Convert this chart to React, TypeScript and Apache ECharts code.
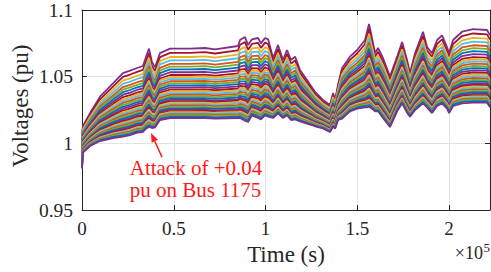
import React, { useEffect, useRef } from "react";
import * as echarts from "echarts";

// Time stamps (s) at which the voltage profiles were read
const TIME = [0, 500, 4400, 9800, 16900, 22300, 26200, 30000, 33200, 34900, 36500, 38100, 39800, 42500, 48000, 58900, 67000, 72500, 85000, 86100, 88800, 90500, 92600, 95900, 97500, 99700, 101400, 104100, 106800, 109500, 111700, 113900, 116100, 118800, 122600, 127000, 131300, 135100, 136800, 137900, 139500, 141700, 146000, 149900, 154200, 155300, 156400, 158000, 159700, 161300, 164000, 167800, 171700, 174400, 177100, 178700, 181500, 185800, 188000, 190700, 193500, 196200, 198900, 200000, 202200, 207100, 213100, 220700, 222300];

// Highest bus voltage profile (pu)
const UPPER = [1.006, 1.013, 1.0227, 1.035, 1.045, 1.0527, 1.0545, 1.0565, 1.058, 1.065, 1.071, 1.061, 1.057, 1.0677, 1.071, 1.071, 1.0715, 1.0705, 1.073, 1.0775, 1.0797, 1.0737, 1.078, 1.079, 1.075, 1.079, 1.078, 1.064, 1.0737, 1.0625, 1.07, 1.0625, 1.065, 1.055, 1.0475, 1.0385, 1.0325, 1.0287, 1.0377, 1.0325, 1.044, 1.0565, 1.065, 1.07, 1.0775, 1.0837, 1.0895, 1.079, 1.0677, 1.0715, 1.064, 1.05, 1.065, 1.076, 1.0625, 1.0527, 1.0677, 1.0837, 1.0722, 1.0677, 1.0775, 1.081, 1.072, 1.0677, 1.0775, 1.0837, 1.0857, 1.085, 1.081];

// Lowest bus voltage profile (pu)
const LOWER = [0.981, 0.993, 0.998, 1.0017, 1.004, 1.005, 1.0062, 1.008, 1.0085, 1.011, 1.0125, 1.0115, 1.012, 1.0175, 1.019, 1.019, 1.019, 1.0185, 1.019, 1.019, 1.017, 1.016, 1.021, 1.019, 1.018, 1.021, 1.02, 1.019, 1.0225, 1.019, 1.021, 1.0175, 1.018, 1.0165, 1.0148, 1.0128, 1.0112, 1.0085, 1.0125, 1.011, 1.0175, 1.0185, 1.024, 1.026, 1.027, 1.027, 1.0275, 1.026, 1.024, 1.024, 1.019, 1.0122, 1.024, 1.03, 1.023, 1.02, 1.025, 1.03, 1.027, 1.0227, 1.028, 1.03, 1.026, 1.0227, 1.028, 1.03, 1.0305, 1.0305, 1.027];

// Relative position of each bus inside the voltage band (1 = top, 0 = bottom)
const LEVELS = [1.0, 0.94, 0.88, 0.83, 0.78, 0.74, 0.7, 0.66, 0.62, 0.59, 0.56, 0.53, 0.5, 0.47, 0.44, 0.41, 0.385, 0.36, 0.335, 0.31, 0.285, 0.26, 0.24, 0.22, 0.2, 0.18, 0.16, 0.14, 0.12, 0.1, 0.085, 0.07, 0.055, 0.04, 0.02, 0.0];

const X_TICKS = [0, 50000, 100000, 150000, 200000];
const Y_TICKS = [0.95, 1, 1.05, 1.1];

const COLORS = ["#0072BD", "#D95319", "#EDB120", "#7E2F8E", "#77AC30", "#4DBEEE", "#A2142F"];

const ANNOT_LINES = ["Attack of +0.04", "pu on Bus 1175"];
const ARROW_TIP = [37600, 1.0077];
const ARROW_TAIL = [43600, 0.9897];
const ANNOT_ANCHOR = [26000, 0.9812];

const FONT = "'Liberation Serif', 'Times New Roman', serif";
const INK = "#262626";

export default function App() {
  const ref = useRef<HTMLDivElement>(null);
  useEffect(() => {
    document.body.style.margin = "0";
    if (!ref.current) return;
    const chart = echarts.init(ref.current, undefined, { renderer: "svg" });

    const series = LEVELS.map((lv, i) => {
      const color = COLORS[(3 + 3 * i) % COLORS.length];
      return {
        type: "line",
        name: "Bus " + (i + 1),
        data: TIME.map((t, k) => [t, LOWER[k] + lv * (UPPER[k] - LOWER[k])]),
        showSymbol: false,
        symbol: "none",
        silent: true,
        lineStyle: { width: 1.8, color },
        itemStyle: { color },
        z: 2,
      };
    });

    const xMax = TIME[TIME.length - 1];
    const axisCommonX = {
      type: "value",
      min: 0,
      max: xMax,
      interval: X_TICKS[1] - X_TICKS[0],
      axisLine: { show: true, onZero: false, lineStyle: { color: INK, width: 1 } },
      axisTick: { show: true, inside: true, length: 5, lineStyle: { color: INK } },
    };
    const axisCommonY = {
      type: "value",
      min: Y_TICKS[0],
      max: Y_TICKS[Y_TICKS.length - 1],
      interval: 0.05,
      axisLine: { show: true, onZero: false, lineStyle: { color: INK, width: 1 } },
      axisTick: { show: true, inside: true, length: 5, lineStyle: { color: INK } },
    };

    chart.setOption({
      animation: false,
      grid: { left: 82, right: 1, top: 10, bottom: 62, containLabel: false },
      xAxis: [
        {
          ...axisCommonX,
          position: "bottom",
          name: "Time (s)",
          nameLocation: "middle",
          nameGap: 32,
          nameTextStyle: { fontFamily: FONT, fontSize: 23, color: INK },
          axisLabel: {
            show: true,
            margin: 9,
            fontFamily: FONT,
            fontSize: 19,
            color: INK,
            showMaxLabel: false,
            formatter: (v: number) => String(parseFloat((v / 1e5).toFixed(2))),
          },
          splitLine: { show: true, lineStyle: { color: "#e3e3e3", width: 1 } },
        },
        {
          ...axisCommonX,
          position: "top",
          axisLabel: { show: false },
          splitLine: { show: false },
        },
      ],
      yAxis: [
        {
          ...axisCommonY,
          position: "left",
          axisLabel: {
            show: true,
            margin: 9,
            fontFamily: FONT,
            fontSize: 19.5,
            color: INK,
            formatter: (v: number) => String(parseFloat(v.toFixed(2))),
          },
          splitLine: { show: true, lineStyle: { color: "#e3e3e3", width: 1 } },
        },
        {
          ...axisCommonY,
          position: "right",
          axisLabel: { show: false },
          splitLine: { show: false },
        },
      ],
      series,
    });

    const tip = chart.convertToPixel({ gridIndex: 0 }, ARROW_TIP) as number[];
    const tail = chart.convertToPixel({ gridIndex: 0 }, ARROW_TAIL) as number[];
    const anchor = chart.convertToPixel({ gridIndex: 0 }, ANNOT_ANCHOR) as number[];
    const dx = tip[0] - tail[0];
    const dy = tip[1] - tail[1];
    const len = Math.sqrt(dx * dx + dy * dy);
    const ux = dx / len;
    const uy = dy / len;
    const headLen = 9;
    const headW = 3.5;
    const bx = tip[0] - ux * headLen;
    const by = tip[1] - uy * headLen;
    const red = "#ff1a1a";

    chart.setOption({
      graphic: [
        {
          type: "line",
          shape: { x1: tail[0], y1: tail[1], x2: bx, y2: by },
          style: { stroke: red, lineWidth: 1.5 },
          silent: true,
          z: 10,
        },
        {
          type: "polygon",
          shape: {
            points: [
              [tip[0], tip[1]],
              [bx - uy * headW, by + ux * headW],
              [bx + uy * headW, by - ux * headW],
            ],
          },
          style: { fill: red },
          silent: true,
          z: 10,
        },
        {
          type: "text",
          x: anchor[0],
          y: anchor[1],
          style: {
            text: ANNOT_LINES[0],
            fill: red,
            font: "21px " + FONT,
            align: "left",
            verticalAlign: "middle",
          },
          z: 10,
        },
        {
          type: "text",
          x: anchor[0],
          y: anchor[1] + 22,
          style: {
            text: ANNOT_LINES[1],
            fill: red,
            font: "21px " + FONT,
            align: "left",
            verticalAlign: "middle",
          },
          z: 10,
        },
        {
          type: "text",
          x: 20,
          y: 106,
          rotation: Math.PI / 2,
          style: {
            text: "Voltages (pu)",
            fill: INK,
            font: "23px " + FONT,
            align: "center",
            verticalAlign: "middle",
          },
        },
        {
          type: "text",
          x: 483,
          y: 253,
          style: {
            text: "\u00d710",
            fill: INK,
            font: "18px " + FONT,
            align: "right",
            verticalAlign: "middle",
          },
        },
        {
          type: "text",
          x: 483.5,
          y: 247,
          style: {
            text: "5",
            fill: INK,
            font: "13px " + FONT,
            align: "left",
            verticalAlign: "middle",
          },
        },
      ],
    });

    return () => chart.dispose();
  }, []);
  return <div ref={ref} style={{ width: 491, height: 272 }} />;
}
